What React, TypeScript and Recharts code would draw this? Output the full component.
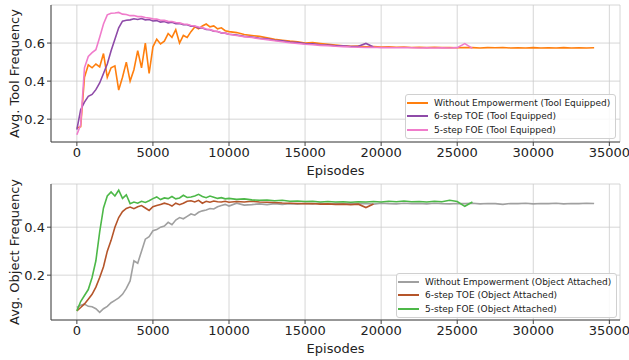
import React from "react";
import { LineChart, Line, XAxis, YAxis, CartesianGrid, Legend } from "recharts";

const FONT = "'DejaVu Sans', sans-serif";

// episode grid (x)
const episodes = [
  0, 250, 500, 750, 1000, 1250, 1500, 1750, 2000, 2250, 2500, 2750, 3000, 3250, 3500, 3750, 4000, 4250, 4500, 4750,
  5000, 5250, 5500, 5750, 6000, 6250, 6500, 6750, 7000, 7250, 7500, 7750, 8000, 8250, 8500, 8750, 9000, 9250, 9500, 9750,
  10000, 10500, 11000, 11500, 12000, 12500, 13000, 13500, 14000, 14500, 15000, 15500, 16000, 16500, 17000, 17500,
  18000, 18500, 19000, 19500, 20000, 20500, 21000, 21500, 22000, 22500, 23000, 23500, 24000, 24500, 25000, 25500,
  26000, 26500, 27000, 27500, 28000, 28500, 29000, 29500, 30000, 30500, 31000, 31500, 32000, 32500, 33000, 33500, 34000,
];

// top panel: tool equipped frequency
const toolNoEmp = [
  0.153, 0.16, 0.42, 0.485, 0.47, 0.49, 0.475, 0.545, 0.42, 0.47, 0.48, 0.353, 0.42, 0.5, 0.4, 0.46, 0.56, 0.47, 0.6, 0.44,
  0.58, 0.62, 0.595, 0.61, 0.65, 0.63, 0.67, 0.6, 0.64, 0.63, 0.66, 0.685, 0.675, 0.69, 0.7, 0.685, 0.69, 0.675, 0.68, 0.665,
  0.66, 0.655, 0.645, 0.64, 0.635, 0.628, 0.62, 0.615, 0.61, 0.606, 0.6, 0.602, 0.598, 0.594, 0.59, 0.586,
  0.583, 0.584, 0.58, 0.582, 0.579, 0.58, 0.578, 0.579, 0.577, 0.578, 0.576, 0.578, 0.576, 0.577, 0.575, 0.577,
  0.576, 0.574, 0.576, 0.575, 0.577, 0.574, 0.575, 0.574, 0.576, 0.574, 0.575, 0.574, 0.576, 0.574, 0.575, 0.574, 0.575,
];
const toolToe6 = [
  0.145, 0.25, 0.29, 0.32, 0.33, 0.355, 0.39, 0.44, 0.49, 0.56, 0.62, 0.68, 0.715, 0.72, 0.722, 0.728, 0.724, 0.729, 0.722, 0.724,
  0.716, 0.718, 0.71, 0.713, 0.706, 0.709, 0.702, 0.703, 0.697, 0.696, 0.689, 0.688, 0.68, 0.679, 0.671, 0.67, 0.662, 0.661, 0.653, 0.652,
  0.646, 0.642, 0.635, 0.632, 0.625, 0.622, 0.615, 0.612, 0.605, 0.603, 0.597, 0.596, 0.591, 0.59, 0.586, 0.586,
  0.582, 0.583, 0.598, 0.579, null, null, null, null, null, null, null, null, null, null, null, null,
  null, null, null, null, null, null, null, null, null, null, null, null, null, null, null, null, null,
];
const toolFoe5 = [
  0.118, 0.17, 0.47, 0.53, 0.55, 0.565, 0.63, 0.7, 0.748, 0.757, 0.758, 0.761, 0.752, 0.75, 0.744, 0.745, 0.739, 0.739, 0.734, 0.732,
  0.727, 0.726, 0.72, 0.719, 0.714, 0.713, 0.708, 0.706, 0.7, 0.699, 0.692, 0.69, 0.684, 0.681, 0.674, 0.671, 0.664, 0.661, 0.654, 0.652,
  0.646, 0.64, 0.634, 0.629, 0.623, 0.618, 0.612, 0.607, 0.602, 0.598, 0.594, 0.591, 0.588, 0.586, 0.583, 0.581,
  0.579, 0.578, 0.577, 0.578, 0.576, 0.577, 0.575, 0.576, 0.575, 0.574, 0.575, 0.574, 0.575, 0.574, 0.576, 0.597,
  0.572, null, null, null, null, null, null, null, null, null, null, null, null, null, null, null, null,
];

// bottom panel: object attached frequency
const objNoEmp = [
  0.065, 0.075, 0.079, 0.07, 0.068, 0.06, 0.045, 0.06, 0.07, 0.085, 0.095, 0.105, 0.12, 0.145, 0.176, 0.26, 0.25, 0.3, 0.35, 0.36,
  0.385, 0.39, 0.4, 0.405, 0.42, 0.41, 0.43, 0.44, 0.435, 0.445, 0.455, 0.45, 0.462, 0.468, 0.472, 0.478, 0.476, 0.485, 0.49, 0.495,
  0.488, 0.5, 0.492, 0.494, 0.497, 0.494, 0.498, 0.495, 0.498, 0.496, 0.499, 0.497, 0.5, 0.496, 0.499, 0.497,
  0.5, 0.497, 0.499, 0.496, 0.5, 0.498, 0.497, 0.5, 0.498, 0.499, 0.497, 0.5, 0.498, 0.497, 0.499, 0.498,
  0.5, 0.497, 0.499, 0.498, 0.495, 0.499, 0.498, 0.5, 0.497, 0.499, 0.498, 0.5, 0.497, 0.499, 0.498, 0.5, 0.499,
];
const objToe6 = [
  0.051, 0.065, 0.08, 0.1, 0.12, 0.15, 0.19, 0.235, 0.3, 0.345, 0.4, 0.44, 0.465, 0.478, 0.484, 0.477, 0.485, 0.49, 0.48, 0.47,
  0.485, 0.49, 0.495, 0.5, 0.496, 0.488, 0.5, 0.494, 0.5, 0.508, 0.51, 0.505, 0.512, 0.5, 0.508, 0.504, 0.509, 0.506, 0.505, 0.508,
  0.504, 0.507, 0.505, 0.508, 0.505, 0.504, 0.503, 0.501, 0.5, 0.499, 0.498, 0.499, 0.496, 0.497, 0.495, 0.496,
  0.494, 0.496, 0.482, 0.497, null, null, null, null, null, null, null, null, null, null, null, null,
  null, null, null, null, null, null, null, null, null, null, null, null, null, null, null, null, null,
];
const objFoe5 = [
  0.051, 0.09, 0.115, 0.14, 0.19, 0.26, 0.38, 0.48, 0.53, 0.547, 0.53, 0.554, 0.52, 0.535, 0.498, 0.505, 0.5, 0.508, 0.503, 0.51,
  0.519, 0.526, 0.515, 0.522, 0.519, 0.528, 0.518, 0.522, 0.533, 0.524, 0.526, 0.53, 0.537, 0.528, 0.523, 0.53, 0.525, 0.52, 0.523, 0.518,
  0.52, 0.516, 0.518, 0.514, 0.512, 0.513, 0.51, 0.512, 0.508, 0.509, 0.507, 0.508, 0.505, 0.507, 0.505, 0.506,
  0.504, 0.506, 0.505, 0.507, 0.505, 0.508, 0.506, 0.509, 0.506, 0.507, 0.505, 0.508, 0.506, 0.512, 0.507, 0.487,
  0.505, null, null, null, null, null, null, null, null, null, null, null, null, null, null, null, null,
];

const xTicks = [0, 5000, 10000, 15000, 20000, 25000, 30000, 35000];
const toolTicks = [0.2, 0.4, 0.6];
const objTicks = [0.2, 0.4];

const toolLabels = [
  "Without Empowerment (Tool Equipped)",
  "6-step TOE (Tool Equipped)",
  "5-step FOE (Tool Equipped)",
];
const objLabels = [
  "Without Empowerment (Object Attached)",
  "6-step TOE (Object Attached)",
  "5-step FOE (Object Attached)",
];

const toolColors = ["#ff7f0e", "#8e4aa8", "#f07ccb"];
const objColors = ["#a0a0a0", "#b5552a", "#4db848"];

const toolData = episodes.map((ep, i) => ({ ep, a: toolNoEmp[i], b: toolToe6[i], c: toolFoe5[i] }));
const objData = episodes.map((ep, i) => ({ ep, a: objNoEmp[i], b: objToe6[i], c: objFoe5[i] }));

const tickStyle = { fill: "#222", fontSize: 13, fontFamily: FONT };
const frame = "#444";

function LegendBox({ labels, colors }: { labels: string[]; colors: string[] }) {
  return (
    <div
      style={{
        border: "1px solid #d0d0d0",
        borderRadius: 3,
        background: "rgba(255,255,255,0.85)",
        padding: "1px 5px 1px 1px",
        fontFamily: FONT,
        fontSize: 9,
        color: "#222",
      }}
    >
      {labels.map((l, i) => (
        <div key={l} style={{ display: "flex", alignItems: "center", height: 13.6, whiteSpace: "nowrap" }}>
          <span style={{ display: "inline-block", width: 21, height: 2, background: colors[i], marginRight: 6 }} />
          {l}
        </div>
      ))}
    </div>
  );
}

function Panel({
  data,
  domain,
  ticks,
  ylabel,
  labels,
  colors,
  top,
  legendPos,
}: {
  data: any[];
  domain: [number, number];
  ticks: number[];
  ylabel: string;
  labels: string[];
  colors: string[];
  top: number;
  legendPos: { left: number; top: number };
}) {
  return (
    <LineChart width={629} height={180} data={data} margin={{ top: top, right: 9, left: 0, bottom: 0 }}>
      <CartesianGrid stroke="#cccccc" strokeWidth={0.8} verticalPoints={undefined} />
      <XAxis
        dataKey="ep"
        type="number"
        domain={[-1700, 35700]}
        ticks={xTicks}
        height={38}
        tick={tickStyle}
        tickSize={4}
        tickMargin={2}
        stroke={frame}
        interval={0}
        label={{ value: "Episodes", position: "insideBottom", offset: 5, fill: "#222", fontSize: 13, fontFamily: FONT }}
      />
      <XAxis xAxisId="top" orientation="top" dataKey="ep" type="number" domain={[-1700, 35700]} height={0} tick={false} tickLine={false} stroke={frame} />
      <YAxis
        type="number"
        domain={domain}
        ticks={ticks}
        width={51}
        tick={tickStyle}
        tickSize={4}
        tickMargin={2}
        stroke={frame}
        allowDataOverflow
        tickFormatter={(v: number) => v.toFixed(1)}
        label={{ value: ylabel, angle: -90, position: "center", dx: -11, fill: "#222", fontSize: 13, fontFamily: FONT }}
      />
      <YAxis yAxisId="right" orientation="right" domain={domain} width={0} tick={false} tickLine={false} stroke={frame} />
      <Legend
        layout="vertical"
        verticalAlign="middle"
        align="center"
        wrapperStyle={{ position: "absolute", left: legendPos.left, top: legendPos.top, width: "auto" }}
        content={() => <LegendBox labels={labels} colors={colors} />}
      />
      <Line dataKey="a" stroke={colors[0]} strokeWidth={1.6} dot={false} isAnimationActive={false} />
      <Line dataKey="b" stroke={colors[1]} strokeWidth={1.6} dot={false} isAnimationActive={false} />
      <Line dataKey="c" stroke={colors[2]} strokeWidth={1.6} dot={false} isAnimationActive={false} />
    </LineChart>
  );
}

export default function App() {
  return (
    <div style={{ position: "absolute", left: 0, top: 0, width: 629, height: 360, background: "#fff" }}>
      <div style={{ position: "absolute", left: 0, top: 0 }}>
        <Panel
          data={toolData}
          domain={[0.08, 0.8]}
          ticks={toolTicks}
          ylabel="Avg. Tool Frequency"
          labels={toolLabels}
          colors={toolColors}
          top={5}
          legendPos={{ left: 405, top: 94 }}
        />
      </div>
      <div style={{ position: "absolute", left: 0, top: 178 }}>
        <Panel
          data={objData}
          domain={[0.013, 0.58]}
          ticks={objTicks}
          ylabel="Avg. Object Frequency"
          labels={objLabels}
          colors={objColors}
          top={6}
          legendPos={{ left: 396, top: 95 }}
        />
      </div>
    </div>
  );
}
